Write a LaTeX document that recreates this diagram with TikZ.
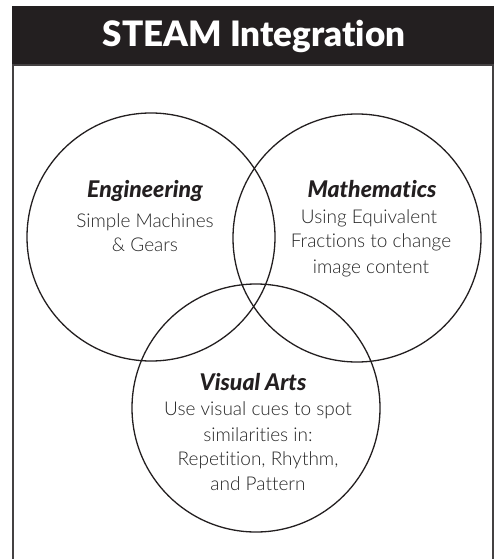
\documentclass[tikz,border=0pt]{standalone}
\usepackage{fontspec}
\defaultfontfeatures{Ligatures={TeX,NoCommon}}
\setmainfont{Lato}
% heavier face for the banner, lighter face for the body text when installed
\IfFontExistsTF{Lato Black}
  {\newfontfamily\bannerfont{Lato Black}}
  {\newfontfamily\bannerfont{Lato}[UprightFont=*-Bold]}
\IfFontExistsTF{Lato Light}
  {\newfontfamily\bodyfont{Lato Light}}
  {\newfontfamily\bodyfont{Lato}}
\IfFontExistsTF{Lato Black}
  {\newfontfamily\headfont{Lato Black}[ItalicFont={Lato Black Italic}]}
  {\newfontfamily\headfont{Lato}[UprightFont=*-Bold,ItalicFont=*-BoldItalic]}
\definecolor{banner}{HTML}{231F20}
\definecolor{ink}{HTML}{231F20}
\definecolor{inkgray}{HTML}{262626}
\begin{document}
\begin{tikzpicture}[x=1pt,y=-1pt,
  ring/.style={circle,draw=ink,line width=1.3pt,minimum size=248pt,inner sep=0pt},
  head/.style={anchor=base,inner sep=0pt,text=ink,
    font=\fontsize{23}{27}\headfont\itshape},
  body/.style={anchor=base,inner sep=0pt,text=inkgray,
    font=\fontsize{19}{23}\bodyfont}]
\useasboundingbox (0,0) rectangle (494,559);
% title banner and frame
\fill[banner] (12,6) rectangle (494,64);
\node[anchor=base,inner sep=0pt,text=white,font=\fontsize{35}{40}\bannerfont]
  (title) at (254,47) {STEAM Integration};
\draw[ink!85,line width=2pt] (13,559) -- (13,65) -- (493,65) -- (493,559);
% the three circles
\node[ring] (eng) at (151,237) {};
\node[ring] (math) at (357,238) {};
\node[ring] (arts) at (256,408) {};
% Engineering
\node[head] (engH) at (145,197) {Engineering};
\node[body] (engA) at (145,227) {Simple Machines};
\node[body] (engB) at (145,251) {\& Gears};
% Mathematics
\node[head] (mathH) at (372,197) {Mathematics};
\node[body] (mathA) at (369,223) {Using Equivalent};
\node[body] (mathB) at (371,247) {Fractions to change};
\node[body] (mathC) at (371,273) {image content};
% Visual Arts
\node[head] (artsH) at (253,390) {Visual Arts};
\node[body] (artsA) at (258,415) {Use visual cues to spot};
\node[body] (artsB) at (258,441) {similarities in:};
\node[body] (artsC) at (258,465) {Repetition, Rhythm,};
\node[body] (artsD) at (258,490) {and Pattern};
\end{tikzpicture}
\end{document}
